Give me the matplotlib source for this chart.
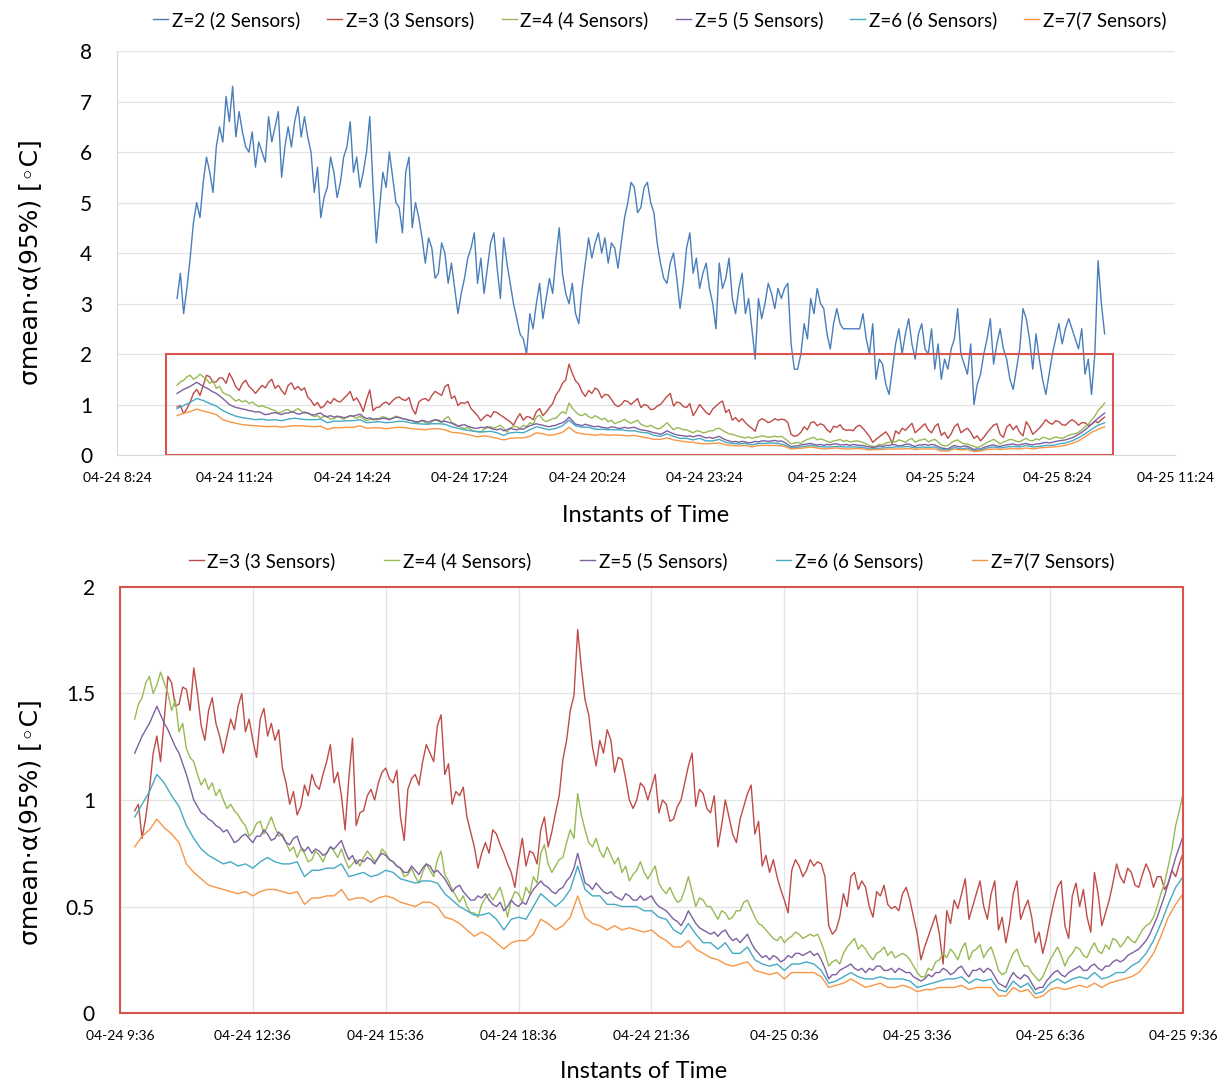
import pandas as pd
import matplotlib
matplotlib.use("Agg")
import matplotlib.pyplot as plt
import matplotlib.dates as mdates
from matplotlib.patches import Rectangle

plt.rcParams["font.family"] = ["Lato", "DejaVu Sans"]

# Z=2..5 logged every 5 min, Z=6/7 every 10 min (04-24 9:56 -> 04-25 9:36)
times_5 = pd.date_range("2019-04-24 09:56", periods=285, freq="5min")
times_10 = pd.date_range("2019-04-24 09:56", periods=143, freq="10min")

sigma_z2 = [
    3.1, 3.6, 2.8, 3.3, 3.9, 4.6, 5.0, 4.7, 5.4, 5.9, 5.6, 5.2, 6.1, 6.5, 6.2, 7.1, 6.6, 7.3, 6.3, 6.8,
    6.4, 6.1, 6.0, 6.4, 5.7, 6.2, 6.0, 5.8, 6.7, 6.2, 6.5, 6.8, 5.5, 6.1, 6.5, 6.1, 6.6, 6.9, 6.3, 6.7,
    6.3, 6.0, 5.2, 5.7, 4.7, 5.1, 5.3, 5.9, 5.6, 5.1, 5.4, 5.9, 6.1, 6.6, 5.6, 5.9, 5.3, 5.6, 6.0, 6.7,
    5.3, 4.2, 4.9, 5.6, 5.3, 6.0, 5.5, 5.0, 4.9, 4.4, 5.6, 5.9, 4.5, 5.0, 4.7, 4.3, 3.8, 4.3, 4.1, 3.5,
    3.6, 4.2, 4.0, 3.4, 3.8, 3.3, 2.8, 3.2, 3.5, 3.9, 4.1, 4.4, 3.4, 3.9, 3.2, 3.7, 4.2, 4.4, 3.7, 3.1,
    4.3, 3.8, 3.4, 3.0, 2.7, 2.4, 2.3, 2.0, 2.8, 2.5, 3.0, 3.4, 2.7, 3.1, 3.5, 3.2, 3.9, 4.5, 3.6, 3.2,
    3.0, 3.4, 2.8, 2.6, 3.3, 3.8, 4.3, 3.9, 4.2, 4.4, 4.0, 4.3, 3.8, 4.2, 4.1, 3.7, 4.2, 4.7, 5.0, 5.4,
    5.3, 4.8, 4.9, 5.3, 5.4, 5.0, 4.8, 4.2, 3.8, 3.5, 3.4, 3.8, 4.0, 3.5, 2.9, 3.4, 4.1, 4.4, 3.6, 3.9,
    3.3, 3.6, 3.8, 3.3, 3.0, 2.5, 3.8, 3.3, 3.5, 3.9, 3.1, 2.8, 3.3, 3.6, 2.8, 3.1, 2.5, 1.9, 3.1, 2.7,
    3.0, 3.4, 3.2, 2.9, 3.3, 3.1, 3.3, 3.4, 2.2, 1.7, 1.7, 2.0, 2.6, 2.3, 3.1, 2.8, 3.3, 3.0, 2.9, 2.4,
    2.1, 2.6, 2.9, 2.6, 2.5, 2.5, 2.5, 2.5, 2.5, 2.5, 2.8, 2.3, 2.0, 2.6, 1.5, 1.9, 1.8, 1.4, 1.2, 1.7,
    2.2, 2.5, 2.0, 2.4, 2.7, 2.2, 1.9, 2.4, 2.6, 2.1, 2.0, 2.5, 1.7, 2.2, 1.5, 1.9, 1.7, 2.1, 2.3, 2.9,
    2.0, 1.8, 1.6, 2.2, 1.0, 1.4, 1.6, 2.0, 2.3, 2.7, 1.8, 2.2, 2.5, 2.1, 1.9, 1.5, 1.3, 1.7, 2.1, 2.9,
    2.7, 2.3, 1.7, 2.4, 1.9, 1.5, 1.2, 1.6, 2.0, 2.3, 2.6, 2.2, 2.5, 2.7, 2.5, 2.3, 2.1, 2.5, 1.6, 1.9,
    1.2, 2.0, 3.85, 3.0, 2.4,
]
sigma_z3 = [
    0.95, 0.98, 0.82, 0.92, 1.05, 1.22, 1.30, 1.18, 1.38, 1.58, 1.55, 1.44, 1.45, 1.53, 1.52, 1.42, 1.62, 1.50, 1.35, 1.28,
    1.42, 1.48, 1.36, 1.30, 1.22, 1.30, 1.38, 1.33, 1.44, 1.50, 1.32, 1.38, 1.28, 1.20, 1.38, 1.43, 1.30, 1.36, 1.28, 1.33,
    1.15, 1.08, 0.98, 1.04, 0.93, 0.97, 1.07, 1.02, 1.12, 1.07, 1.05, 1.12, 1.18, 1.26, 1.08, 1.13, 1.02, 0.86, 1.10, 1.29,
    0.88, 0.94, 0.95, 1.02, 1.05, 1.00, 1.08, 1.13, 1.15, 1.10, 1.08, 1.14, 0.92, 0.81, 1.05, 1.10, 1.12, 1.07, 1.18, 1.26,
    1.22, 1.18, 1.35, 1.40, 1.12, 1.17, 0.98, 1.04, 1.02, 1.06, 0.92, 0.85, 0.78, 0.68, 0.75, 0.80, 0.75, 0.86, 0.84, 0.79,
    0.75, 0.70, 0.66, 0.59, 0.72, 0.82, 0.69, 0.76, 0.75, 0.70, 0.86, 0.92, 0.78, 0.85, 0.94, 1.02, 1.19, 1.28, 1.42, 1.49,
    1.80, 1.62, 1.47, 1.40, 1.25, 1.16, 1.28, 1.22, 1.33, 1.28, 1.13, 1.20, 1.19, 1.10, 1.00, 0.96, 1.00, 1.08, 1.06, 1.00,
    1.06, 1.12, 0.94, 1.00, 0.98, 0.90, 0.91, 0.97, 1.00, 1.08, 1.16, 1.22, 0.97, 1.05, 1.03, 0.96, 0.94, 1.02, 0.78, 0.88,
    1.00, 0.92, 0.84, 0.80, 0.91, 0.97, 1.03, 1.07, 0.84, 0.90, 0.69, 0.74, 0.66, 0.72, 0.64, 0.58, 0.53, 0.47, 0.67, 0.72,
    0.69, 0.64, 0.67, 0.72, 0.69, 0.71, 0.70, 0.64, 0.41, 0.37, 0.39, 0.45, 0.56, 0.50, 0.64, 0.66, 0.58, 0.62, 0.59, 0.50,
    0.45, 0.57, 0.55, 0.60, 0.51, 0.49, 0.50, 0.48, 0.56, 0.59, 0.53, 0.45, 0.37, 0.25, 0.31, 0.36, 0.41, 0.46, 0.37, 0.23,
    0.48, 0.42, 0.53, 0.49, 0.56, 0.63, 0.44, 0.50, 0.56, 0.62, 0.50, 0.44, 0.56, 0.62, 0.39, 0.45, 0.33, 0.42, 0.56, 0.62,
    0.44, 0.49, 0.53, 0.45, 0.33, 0.38, 0.28, 0.35, 0.44, 0.52, 0.59, 0.62, 0.41, 0.35, 0.55, 0.61, 0.50, 0.58, 0.45, 0.38,
    0.66, 0.56, 0.41, 0.47, 0.53, 0.61, 0.70, 0.64, 0.61, 0.68, 0.66, 0.60, 0.59, 0.65, 0.70, 0.66, 0.59, 0.64, 0.64, 0.58,
    0.61, 0.67, 0.64, 0.70, 0.75,
]
sigma_z4 = [
    1.38, 1.45, 1.48, 1.55, 1.58, 1.50, 1.54, 1.60, 1.55, 1.50, 1.42, 1.47, 1.32, 1.36, 1.24, 1.20, 1.18, 1.12, 1.07, 1.10,
    1.05, 1.08, 1.02, 1.05, 1.00, 0.96, 0.98, 0.95, 0.93, 0.90, 0.88, 0.83, 0.85, 0.89, 0.90, 0.84, 0.88, 0.92, 0.87, 0.83,
    0.84, 0.80, 0.76, 0.78, 0.73, 0.77, 0.75, 0.71, 0.72, 0.76, 0.74, 0.71, 0.75, 0.78, 0.76, 0.73, 0.77, 0.72, 0.68, 0.70,
    0.72, 0.69, 0.73, 0.76, 0.74, 0.71, 0.73, 0.77, 0.75, 0.72, 0.71, 0.69, 0.68, 0.64, 0.65, 0.68, 0.64, 0.61, 0.66, 0.70,
    0.67, 0.64, 0.72, 0.76, 0.65, 0.62, 0.58, 0.55, 0.52, 0.55, 0.50, 0.47, 0.47, 0.45, 0.51, 0.54, 0.56, 0.53, 0.56, 0.59,
    0.53, 0.45, 0.53, 0.57, 0.56, 0.52, 0.59, 0.56, 0.64, 0.61, 0.75, 0.79, 0.70, 0.66, 0.69, 0.72, 0.73, 0.80, 0.86, 0.82,
    1.03, 0.93, 0.86, 0.80, 0.78, 0.82, 0.76, 0.73, 0.78, 0.74, 0.70, 0.73, 0.66, 0.69, 0.62, 0.65, 0.67, 0.71, 0.66, 0.63,
    0.66, 0.69, 0.61, 0.58, 0.56, 0.59, 0.55, 0.52, 0.53, 0.58, 0.64, 0.57, 0.50, 0.54, 0.53, 0.50, 0.50, 0.47, 0.44, 0.48,
    0.47, 0.44, 0.45, 0.48, 0.48, 0.52, 0.53, 0.49, 0.45, 0.42, 0.41, 0.39, 0.37, 0.35, 0.34, 0.36, 0.33, 0.35, 0.36, 0.38,
    0.37, 0.35, 0.36, 0.37, 0.36, 0.37, 0.33, 0.28, 0.22, 0.24, 0.25, 0.23, 0.28, 0.31, 0.33, 0.35, 0.30, 0.32, 0.30, 0.27,
    0.25, 0.28, 0.29, 0.31, 0.27, 0.29, 0.26, 0.27, 0.28, 0.27, 0.25, 0.22, 0.19, 0.17, 0.17, 0.21, 0.20, 0.24, 0.25, 0.28,
    0.26, 0.30, 0.28, 0.25, 0.30, 0.33, 0.25, 0.29, 0.30, 0.32, 0.26, 0.29, 0.31, 0.26, 0.20, 0.18, 0.19, 0.24, 0.28, 0.30,
    0.25, 0.22, 0.22, 0.19, 0.17, 0.15, 0.17, 0.21, 0.25, 0.28, 0.31, 0.27, 0.22, 0.26, 0.28, 0.31, 0.30, 0.27, 0.26, 0.30,
    0.33, 0.29, 0.28, 0.32, 0.30, 0.35, 0.34, 0.31, 0.33, 0.36, 0.34, 0.33, 0.36, 0.39, 0.41, 0.42, 0.45, 0.50, 0.56, 0.61,
    0.69, 0.77, 0.88, 0.95, 1.03,
]
sigma_z5 = [
    1.22, 1.26, 1.30, 1.33, 1.36, 1.40, 1.44, 1.40, 1.36, 1.33, 1.29, 1.25, 1.22, 1.17, 1.12, 1.06, 1.00, 0.97, 0.94, 0.93,
    0.91, 0.90, 0.88, 0.87, 0.85, 0.86, 0.83, 0.80, 0.81, 0.83, 0.84, 0.82, 0.80, 0.83, 0.83, 0.86, 0.84, 0.81, 0.82, 0.85,
    0.83, 0.80, 0.79, 0.82, 0.83, 0.78, 0.76, 0.78, 0.75, 0.77, 0.76, 0.74, 0.75, 0.78, 0.77, 0.79, 0.81, 0.76, 0.72, 0.74,
    0.70, 0.72, 0.71, 0.73, 0.72, 0.70, 0.73, 0.75, 0.74, 0.72, 0.71, 0.69, 0.68, 0.66, 0.66, 0.69, 0.67, 0.65, 0.68, 0.70,
    0.69, 0.66, 0.67, 0.65, 0.63, 0.60, 0.57, 0.59, 0.60, 0.57, 0.55, 0.53, 0.53, 0.55, 0.54, 0.56, 0.53, 0.51, 0.50, 0.52,
    0.48, 0.50, 0.53, 0.51, 0.50, 0.52, 0.51, 0.55, 0.58, 0.60, 0.62, 0.60, 0.59, 0.57, 0.56, 0.58, 0.59, 0.62, 0.64, 0.68,
    0.75, 0.68, 0.61, 0.60, 0.58, 0.61, 0.59, 0.57, 0.56, 0.57, 0.55, 0.54, 0.53, 0.56, 0.55, 0.53, 0.53, 0.55, 0.53, 0.54,
    0.55, 0.52, 0.50, 0.49, 0.48, 0.46, 0.44, 0.43, 0.41, 0.44, 0.48, 0.45, 0.42, 0.40, 0.39, 0.38, 0.37, 0.38, 0.36, 0.38,
    0.39, 0.36, 0.34, 0.35, 0.33, 0.35, 0.37, 0.33, 0.30, 0.28, 0.26, 0.27, 0.25, 0.27, 0.26, 0.24, 0.25, 0.27, 0.26, 0.28,
    0.28, 0.27, 0.28, 0.29, 0.27, 0.28, 0.25, 0.21, 0.16, 0.18, 0.18, 0.20, 0.21, 0.22, 0.23, 0.21, 0.20, 0.21, 0.19, 0.21,
    0.20, 0.22, 0.22, 0.20, 0.20, 0.21, 0.19, 0.21, 0.20, 0.19, 0.19, 0.17, 0.16, 0.15, 0.16, 0.18, 0.17, 0.19, 0.19, 0.21,
    0.20, 0.18, 0.19, 0.21, 0.22, 0.19, 0.17, 0.20, 0.20, 0.21, 0.19, 0.21, 0.20, 0.17, 0.14, 0.13, 0.12, 0.16, 0.19, 0.17,
    0.16, 0.18, 0.17, 0.14, 0.11, 0.12, 0.12, 0.15, 0.17, 0.19, 0.20, 0.18, 0.17, 0.19, 0.20, 0.21, 0.22, 0.20, 0.20, 0.22,
    0.23, 0.21, 0.20, 0.22, 0.22, 0.24, 0.25, 0.24, 0.25, 0.27, 0.28, 0.29, 0.30, 0.32, 0.34, 0.37, 0.41, 0.45, 0.50, 0.55,
    0.61, 0.67, 0.73, 0.78, 0.83,
]
sigma_z6 = [
    0.92, 0.98, 1.04, 1.12, 1.08, 1.02, 0.97, 0.88, 0.82, 0.77, 0.74, 0.72, 0.70, 0.71, 0.69, 0.70,
    0.68, 0.71, 0.73, 0.71, 0.70, 0.70, 0.71, 0.64, 0.67, 0.67, 0.68, 0.68, 0.70, 0.64, 0.65, 0.66,
    0.64, 0.65, 0.67, 0.66, 0.63, 0.62, 0.61, 0.62, 0.62, 0.61, 0.56, 0.53, 0.50, 0.48, 0.46, 0.46,
    0.47, 0.44, 0.39, 0.44, 0.45, 0.44, 0.50, 0.56, 0.53, 0.50, 0.53, 0.58, 0.69, 0.58, 0.55, 0.55,
    0.51, 0.51, 0.50, 0.50, 0.50, 0.48, 0.48, 0.45, 0.44, 0.39, 0.37, 0.42, 0.37, 0.33, 0.33, 0.30,
    0.33, 0.28, 0.28, 0.31, 0.25, 0.23, 0.22, 0.23, 0.20, 0.23, 0.23, 0.24, 0.23, 0.20, 0.14, 0.15,
    0.17,
    0.19, 0.17, 0.16, 0.16, 0.17, 0.16, 0.16, 0.16, 0.15, 0.12, 0.13, 0.14, 0.15, 0.16, 0.16, 0.17,
    0.14, 0.16, 0.15, 0.16, 0.11, 0.10, 0.15, 0.12, 0.14, 0.09, 0.10, 0.14, 0.16, 0.14, 0.16, 0.17,
    0.16, 0.19, 0.16, 0.17, 0.19, 0.19, 0.22, 0.24, 0.28, 0.34, 0.42, 0.51, 0.59, 0.64,
]
sigma_z7 = [
    0.78, 0.83, 0.86, 0.91, 0.87, 0.84, 0.80, 0.70, 0.66, 0.63, 0.60, 0.59, 0.58, 0.57, 0.56, 0.57,
    0.55, 0.57, 0.58, 0.58, 0.57, 0.56, 0.57, 0.51, 0.54, 0.54, 0.55, 0.55, 0.58, 0.53, 0.54, 0.54,
    0.52, 0.54, 0.55, 0.54, 0.52, 0.51, 0.50, 0.52, 0.52, 0.50, 0.45, 0.44, 0.42, 0.39, 0.36, 0.38,
    0.36, 0.33, 0.30, 0.33, 0.34, 0.34, 0.37, 0.44, 0.42, 0.39, 0.41, 0.45, 0.55, 0.45, 0.42, 0.41,
    0.39, 0.41, 0.39, 0.40, 0.39, 0.38, 0.39, 0.36, 0.34, 0.31, 0.31, 0.34, 0.30, 0.28, 0.26, 0.25,
    0.23, 0.22, 0.23, 0.24, 0.20, 0.19, 0.18, 0.19, 0.16, 0.19, 0.19, 0.19, 0.19, 0.17, 0.12, 0.13,
    0.14,
    0.16, 0.14, 0.12, 0.13, 0.14, 0.12, 0.12, 0.13, 0.12, 0.10, 0.11, 0.11, 0.12, 0.12, 0.12, 0.13,
    0.11, 0.12, 0.12, 0.12, 0.08, 0.08, 0.12, 0.10, 0.11, 0.07, 0.08, 0.11, 0.12, 0.11, 0.12, 0.13,
    0.12, 0.14, 0.12, 0.14, 0.15, 0.16, 0.17, 0.19, 0.23, 0.28, 0.36, 0.45, 0.51, 0.56,
]

labels = ["Z=2 (2 Sensors)", "Z=3 (3 Sensors)", "Z=4 (4 Sensors)",
          "Z=5 (5 Sensors)", "Z=6 (6 Sensors)", "Z=7(7 Sensors)"]
colors = ["#4a7ebb", "#be4b48", "#98b954", "#7d60a0", "#46aac5", "#f79646"]

fine = pd.DataFrame({"z2": sigma_z2, "z3": sigma_z3, "z4": sigma_z4, "z5": sigma_z5},
                    index=times_5)
coarse = pd.DataFrame({"z6": sigma_z6, "z7": sigma_z7}, index=times_10)
x5 = mdates.date2num(fine.index.to_pydatetime())
x10 = mdates.date2num(coarse.index.to_pydatetime())
series = [(x5, fine["z2"].values), (x5, fine["z3"].values),
          (x5, fine["z4"].values), (x5, fine["z5"].values),
          (x10, coarse["z6"].values), (x10, coarse["z7"].values)]

ylab = "σmean·α(95%) [◦C]"
box_red = "#d9534f"
grid_c = "#e3e3e3"


def time_fmt(x, pos):
    d = mdates.num2date(x)
    return f"{d:%m-%d} {d.hour}:{d:%M}"


def dnum(s):
    return mdates.date2num(pd.Timestamp(s).to_pydatetime())


fig = plt.figure(figsize=(12.29, 10.86), dpi=100)

# --- top: all six sensor counts ---
ax1 = fig.add_axes([0.0952, 0.581, 0.861, 0.372])
for (xs, ys), lab, col in zip(series, labels, colors):
    ax1.plot(xs, ys, color=col, lw=1.0, label=lab)
ax1.set_xlim(dnum("2019-04-24 08:24"), dnum("2019-04-25 11:24"))
ax1.set_ylim(0, 8)
ax1.set_yticks(range(0, 9))
top_ticks = pd.date_range("2019-04-24 08:24", "2019-04-25 11:24", freq="3h")
ax1.set_xticks(mdates.date2num(top_ticks.to_pydatetime()))
ax1.xaxis.set_major_formatter(plt.FuncFormatter(time_fmt))
ax1.grid(axis="y", color=grid_c, lw=0.9)
ax1.set_axisbelow(True)
for s in ["top", "right"]:
    ax1.spines[s].set_visible(False)
for s in ["left", "bottom"]:
    ax1.spines[s].set_color("#d9d9d9")
ax1.tick_params(axis="both", length=0)
ax1.tick_params(axis="y", labelsize=15, pad=18)
ax1.tick_params(axis="x", labelsize=10, pad=12)
x0 = dnum("2019-04-24 09:39")
x1 = dnum("2019-04-25 09:49")
ax1.add_patch(Rectangle((x0, 0), x1 - x0, 2, fill=False, edgecolor=box_red, lw=1.5, zorder=5))
ax1.legend(loc="center", bbox_to_anchor=(0.537, 0.9816), bbox_transform=fig.transFigure,
           ncol=6, frameon=False, fontsize=13.5, handlelength=0.8, handletextpad=0.2,
           columnspacing=1.45)
fig.text(0.0244, 0.759, ylab, rotation=90, ha="center", va="center", fontsize=18,
         family=["DejaVu Sans"])
fig.text(0.5256, 0.525, "Instants of Time", ha="center", va="center", fontsize=17)

# --- bottom: zoom on Z=3..7 ---
ax2 = fig.add_axes([0.0976, 0.0672, 0.865, 0.3923])
for (xs, ys), lab, col in zip(series[1:], labels[1:], colors[1:]):
    ax2.plot(xs, ys, color=col, lw=1.0, label=lab)
ax2.set_xlim(dnum("2019-04-24 09:36"), dnum("2019-04-25 09:36"))
ax2.set_ylim(0, 2)
ax2.set_yticks([0, 0.5, 1, 1.5, 2])
ax2.set_yticklabels(["0", "0.5", "1", "1.5", "2"])
bot_ticks = pd.date_range("2019-04-24 09:36", "2019-04-25 09:36", freq="3h")
ax2.set_xticks(mdates.date2num(bot_ticks.to_pydatetime()))
ax2.xaxis.set_major_formatter(plt.FuncFormatter(time_fmt))
ax2.grid(color=grid_c, lw=0.9)
ax2.set_axisbelow(True)
for s in ax2.spines.values():
    s.set_color(box_red)
    s.set_linewidth(1.5)
ax2.tick_params(axis="both", length=0)
ax2.tick_params(axis="y", labelsize=15, pad=18)
ax2.tick_params(axis="x", labelsize=10, pad=12)
ax2.legend(loc="center", bbox_to_anchor=(0.530, 0.4834), bbox_transform=fig.transFigure,
           ncol=5, frameon=False, fontsize=13.5, handlelength=0.8, handletextpad=0.2,
           columnspacing=2.6)
fig.text(0.0244, 0.243, ylab, rotation=90, ha="center", va="center", fontsize=18,
         family=["DejaVu Sans"])
fig.text(0.524, 0.0138, "Instants of Time", ha="center", va="center", fontsize=17)

fig.savefig("out.png", dpi=100)
